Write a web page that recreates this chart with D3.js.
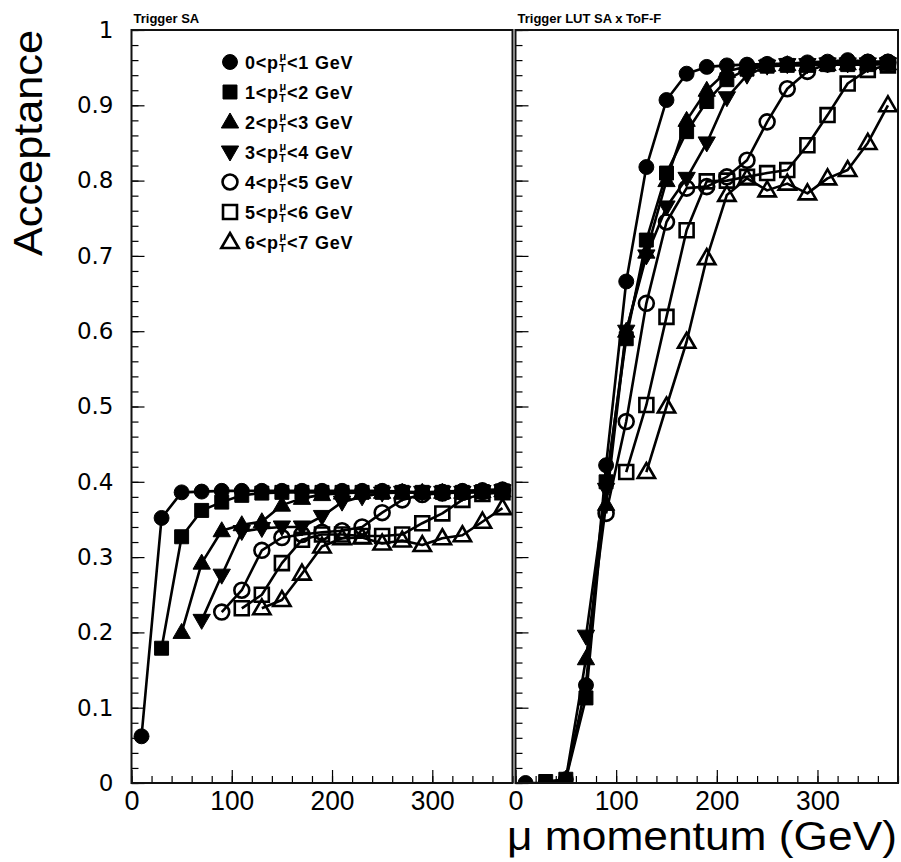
<!DOCTYPE html>
<html>
<head>
<meta charset="utf-8">
<script src="https://cdn.jsdelivr.net/npm/d3@7"></script>
<style>
  html, body { margin: 0; padding: 0; background: #fff; }
  svg { display: block; }
</style>
</head>
<body>
<svg id="chart" width="901" height="862"></svg>
<script>
// ---------------- DATA ----------------
const momentum = [10, 30, 50, 70, 90, 110, 130, 150, 170, 190, 210, 230, 250, 270, 290, 310, 330, 350, 370];

const seriesLabels = [
  ["0", "1"], ["1", "2"], ["2", "3"], ["3", "4"], ["4", "5"], ["5", "6"], ["6", "7"]
];
const seriesMarkers = ["circleFilled", "squareFilled", "triUpFilled", "triDownFilled", "circleOpen", "squareOpen", "triUpOpen"];

const panelTitles = ["Trigger SA", "Trigger LUT SA x ToF-F"];

// Left panel: Trigger SA
const saPt01 = [0.062, 0.352, 0.386, 0.387, 0.388, 0.388, 0.388, 0.388, 0.388, 0.388, 0.388, 0.388, 0.388, 0.387, 0.386, 0.387, 0.388, 0.389, 0.390];
const saPt12 = [null, 0.179, 0.327, 0.362, 0.373, 0.382, 0.385, 0.386, 0.386, 0.386, 0.386, 0.386, 0.386, 0.386, 0.386, 0.386, 0.386, 0.387, 0.388];
const saPt23 = [null, null, 0.200, 0.292, 0.335, 0.343, 0.347, 0.369, 0.378, 0.383, 0.385, 0.386, 0.386, 0.386, 0.386, 0.386, 0.386, 0.387, 0.388];
const saPt34 = [null, null, null, 0.216, 0.276, 0.334, 0.338, 0.340, 0.340, 0.354, 0.373, 0.380, 0.385, 0.386, 0.386, 0.386, 0.386, 0.387, 0.388];
const saPt45 = [null, null, null, null, 0.227, 0.256, 0.309, 0.326, 0.330, 0.333, 0.335, 0.340, 0.359, 0.376, 0.383, 0.385, 0.386, 0.387, 0.388];
const saPt56 = [null, null, null, null, null, 0.232, 0.250, 0.292, 0.323, 0.330, 0.330, 0.328, 0.328, 0.330, 0.345, 0.358, 0.376, 0.384, 0.386];
const saPt67 = [null, null, null, null, null, null, 0.232, 0.243, 0.278, 0.314, 0.325, 0.326, 0.318, 0.322, 0.316, 0.325, 0.329, 0.347, 0.365];

// Right panel: Trigger LUT SA x ToF-F
const lutPt01 = [0.000, 0.000, 0.005, 0.130, 0.422, 0.666, 0.818, 0.907, 0.942, 0.951, 0.953, 0.954, 0.955, 0.955, 0.957, 0.958, 0.960, 0.958, 0.958];
const lutPt12 = [null, 0.002, 0.005, 0.113, 0.400, 0.590, 0.721, 0.810, 0.865, 0.905, 0.934, 0.948, 0.952, 0.953, 0.953, 0.954, 0.954, 0.954, 0.955];
const lutPt23 = [null, null, 0.005, 0.165, 0.370, 0.600, 0.705, 0.800, 0.880, 0.920, 0.945, 0.952, 0.953, 0.954, 0.954, 0.954, 0.955, 0.955, 0.955];
const lutPt34 = [null, null, null, 0.195, 0.390, 0.600, 0.700, 0.765, 0.803, 0.850, 0.910, 0.940, 0.952, 0.954, 0.954, 0.955, 0.955, 0.955, 0.955];
const lutPt45 = [null, null, null, null, 0.358, 0.480, 0.637, 0.745, 0.790, 0.792, 0.805, 0.827, 0.878, 0.922, 0.945, 0.955, 0.957, 0.957, 0.957];
const lutPt56 = [null, null, null, null, null, 0.413, 0.502, 0.619, 0.734, 0.799, 0.800, 0.805, 0.810, 0.814, 0.847, 0.887, 0.929, 0.947, 0.953];
const lutPt67 = [null, null, null, null, null, null, 0.413, 0.500, 0.586, 0.697, 0.781, 0.803, 0.787, 0.796, 0.783, 0.803, 0.814, 0.850, 0.900];

const panelSeries = [
  [saPt01, saPt12, saPt23, saPt34, saPt45, saPt56, saPt67],
  [lutPt01, lutPt12, lutPt23, lutPt34, lutPt45, lutPt56, lutPt67]
];

const xTickValues = [0, 100, 200, 300];
const yTickValues = [0, 0.1, 0.2, 0.3, 0.4, 0.5, 0.6, 0.7, 0.8, 0.9, 1];

// ---------------- LAYOUT ----------------
const svg = d3.select("#chart");
const plotTop = 30, plotBottom = 783;
const panels = [
  { x0: 131.5, x1: 512.5 },
  { x0: 515.5, x1: 898 }
];
const y = d3.scaleLinear().domain([0, 1]).range([plotBottom, plotTop]);

function markerPath(type) {
  const gen = d3.symbol();
  if (type.startsWith("circle")) return gen.type(d3.symbolCircle).size(175)();
  if (type.startsWith("square")) return gen.type(d3.symbolSquare).size(195)();
  return gen.type(d3.symbolTriangle).size(130)();
}
function drawMarker(g, type, cx, cy) {
  const filled = type.endsWith("Filled");
  const rot = type.startsWith("triDown") ? " rotate(180)" : "";
  const dy = type.startsWith("tri") ? (type.startsWith("triDown") ? -1 : 1) : 0;
  g.append("path")
    .attr("d", markerPath(type))
    .attr("transform", `translate(${cx},${cy + dy})${rot}`)
    .attr("fill", filled ? "#000" : "none")
    .attr("stroke", "#000")
    .attr("stroke-width", filled ? 1 : 2.6);
}

panels.forEach((p, pi) => {
  const x = d3.scaleLinear().domain([0, 380]).range([p.x0, p.x1]);
  const g = svg.append("g");

  const clipId = "clip" + pi;
  svg.append("clipPath").attr("id", clipId)
    .append("rect").attr("x", p.x0).attr("y", plotTop).attr("width", p.x1 - p.x0).attr("height", plotBottom - plotTop);

  const dataG = g.append("g").attr("clip-path", `url(#${clipId})`);
  const line = d3.line()
    .defined(d => d.v !== null)
    .x(d => x(d.m)).y(d => y(d.v));

  panelSeries[pi].forEach((vals) => {
    const pts = momentum.map((m, i) => ({ m, v: vals[i] }));
    dataG.append("path")
      .attr("d", line(pts))
      .attr("fill", "none")
      .attr("stroke", "#000")
      .attr("stroke-width", 2.6)
      .attr("stroke-linejoin", "round");
  });
  panelSeries[pi].forEach((vals, si) => {
    momentum.forEach((m, i) => {
      if (vals[i] === null) return;
      drawMarker(dataG, seriesMarkers[si], x(m), y(vals[i]));
    });
  });

  // ticks: bottom (pointing up)
  const xMajor = d3.axisTop(x).tickValues(d3.range(0, 381, 100)).tickSize(13).tickFormat("");
  const xMinor = d3.axisTop(x).tickValues(d3.range(0, 381, 20)).tickSize(7).tickFormat("");
  g.append("g").attr("transform", `translate(0,${plotBottom})`).call(xMinor);
  g.append("g").attr("transform", `translate(0,${plotBottom})`).call(xMajor);
  // ticks: left (pointing right)
  const yMajor = d3.axisRight(y).tickValues(yTickValues).tickSize(13).tickFormat("");
  const yMinor = d3.axisRight(y).tickValues(d3.range(0, 1.001, 0.02)).tickSize(7).tickFormat("");
  g.append("g").attr("transform", `translate(${p.x0},0)`).call(yMinor);
  g.append("g").attr("transform", `translate(${p.x0},0)`).call(yMajor);
  g.selectAll(".domain").remove();
  g.selectAll(".tick line").attr("stroke", "#000").attr("stroke-width", 1.2);

  // x tick labels
  const xLab = d3.axisBottom(x).tickValues(xTickValues).tickSize(0).tickPadding(7).tickFormat(d3.format("d"));
  const xl = g.append("g").attr("transform", `translate(0,${plotBottom})`).call(xLab);
  xl.select(".domain").remove();
  xl.selectAll("text").attr("font-family", "'Liberation Sans', Arial, sans-serif")
    .attr("font-size", 28).attr("fill", "#000")
    .attr("textLength", d => d === 0 ? 15 : 44).attr("lengthAdjust", "spacingAndGlyphs");
  // frame
  g.append("rect")
    .attr("x", p.x0).attr("y", plotTop).attr("width", p.x1 - p.x0).attr("height", plotBottom - plotTop)
    .attr("fill", "none").attr("stroke", "#111").attr("stroke-width", 2);

  // panel title
  svg.append("text")
    .attr("x", p.x0 + 2).attr("y", 23)
    .attr("font-family", "'Liberation Sans', Arial, sans-serif")
    .attr("font-weight", "bold").attr("font-size", 13)
    .text(panelTitles[pi]);
});

// y tick labels (left panel only)
const yLab = d3.axisLeft(y).tickValues(yTickValues).tickSize(0).tickPadding(18)
  .tickFormat(d => d === 0 ? "0" : d === 1 ? "1" : d3.format(".1f")(d));
const yl = svg.append("g").attr("transform", `translate(${panels[0].x0},0)`).call(yLab);
yl.select(".domain").remove();
yl.selectAll("text").attr("font-family", "'DejaVu Sans', sans-serif").attr("font-size", 23).attr("fill", "#000");

// axis titles
svg.append("text")
  .attr("transform", `translate(42,30) rotate(-90)`)
  .attr("text-anchor", "end")
  .attr("font-family", "'Liberation Sans', Arial, sans-serif")
  .attr("font-size", 40)
  .attr("textLength", 226).attr("lengthAdjust", "spacingAndGlyphs")
  .text("Acceptance");

svg.append("text")
  .attr("x", 897).attr("y", 850)
  .attr("text-anchor", "end")
  .attr("font-family", "'Liberation Sans', Arial, sans-serif")
  .attr("font-size", 40)
  .attr("textLength", 390).attr("lengthAdjust", "spacingAndGlyphs")
  .text("\u03bc momentum (GeV)");

// legend
const legend = svg.append("g");
seriesLabels.forEach((lab, i) => {
  const ly = 62 + i * 30;
  drawMarker(legend, seriesMarkers[i], 230, ly);
  const t = legend.append("text")
    .attr("x", 245).attr("y", ly + 7)
    .attr("font-family", "'Liberation Sans', Arial, sans-serif")
    .attr("font-size", 18).attr("font-weight", "bold")
    .attr("letter-spacing", 0.8);
  t.append("tspan").text(lab[0] + "<p");
  t.append("tspan").attr("font-size", 11).attr("dy", 3).text("T");
  t.append("tspan").attr("font-size", 11).attr("dx", -7).attr("dy", -12).text("\u03bc");
  t.append("tspan").attr("dy", 9).text("<" + lab[1] + " GeV");
});
</script>
</body>
</html>
